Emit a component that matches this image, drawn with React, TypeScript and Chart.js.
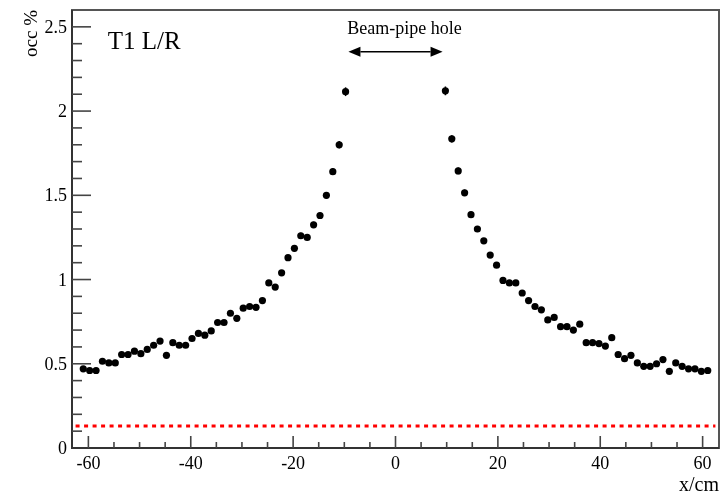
import React, { useEffect, useRef } from "react";
import { Chart, registerables } from "chart.js";
Chart.register(...registerables);

// bin centres (cm) and occupancy (%)
const xLeft = [-61, -59.75, -58.5, -57.25, -56, -54.75, -53.5, -52.25, -51, -49.75, -48.5, -47.25, -46, -44.75, -43.5, -42.25, -41, -39.75, -38.5, -37.25, -36, -34.75, -33.5, -32.25, -31, -29.75, -28.5, -27.25, -26, -24.75, -23.5, -22.25, -21, -19.75, -18.5, -17.25, -16, -14.75, -13.5, -12.25, -11, -9.75];
const occLeft = [0.47, 0.46, 0.46, 0.515, 0.505, 0.505, 0.555, 0.555, 0.575, 0.56, 0.585, 0.61, 0.635, 0.55, 0.625, 0.61, 0.61, 0.65, 0.68, 0.67, 0.695, 0.745, 0.745, 0.8, 0.77, 0.83, 0.84, 0.835, 0.875, 0.98, 0.955, 1.04, 1.13, 1.185, 1.26, 1.25, 1.325, 1.38, 1.5, 1.64, 1.8, 2.115];
const errLeft = [0.012, 0.012, 0.012, 0.012, 0.012, 0.012, 0.012, 0.012, 0.012, 0.012, 0.012, 0.012, 0.012, 0.012, 0.012, 0.012, 0.012, 0.012, 0.013, 0.013, 0.013, 0.013, 0.013, 0.014, 0.014, 0.014, 0.014, 0.014, 0.015, 0.015, 0.015, 0.016, 0.016, 0.017, 0.017, 0.017, 0.018, 0.018, 0.019, 0.02, 0.022, 0.026];

const xRight = [9.75, 11, 12.25, 13.5, 14.75, 16, 17.25, 18.5, 19.75, 21, 22.25, 23.5, 24.75, 26, 27.25, 28.5, 29.75, 31, 32.25, 33.5, 34.75, 36, 37.25, 38.5, 39.75, 41, 42.25, 43.5, 44.75, 46, 47.25, 48.5, 49.75, 51, 52.25, 53.5, 54.75, 56, 57.25, 58.5, 59.75, 61];
const occRight = [2.12, 1.835, 1.645, 1.515, 1.385, 1.3, 1.23, 1.145, 1.085, 0.995, 0.98, 0.98, 0.92, 0.875, 0.84, 0.82, 0.76, 0.775, 0.72, 0.72, 0.7, 0.735, 0.625, 0.625, 0.62, 0.605, 0.655, 0.555, 0.53, 0.55, 0.505, 0.485, 0.485, 0.5, 0.525, 0.455, 0.505, 0.485, 0.47, 0.47, 0.455, 0.46];
const errRight = [0.026, 0.022, 0.02, 0.019, 0.018, 0.018, 0.017, 0.017, 0.016, 0.016, 0.015, 0.015, 0.015, 0.014, 0.014, 0.014, 0.014, 0.014, 0.013, 0.013, 0.013, 0.013, 0.013, 0.012, 0.012, 0.012, 0.012, 0.012, 0.012, 0.012, 0.012, 0.012, 0.012, 0.012, 0.012, 0.012, 0.012, 0.012, 0.012, 0.012, 0.012, 0.012];

// threshold line
const thresholdX = [-62.5, 62.5];
const thresholdY = 0.13;

// axes
const xMin = -63.2, xMax = 63.2;
const yMin = 0, yMax = 2.6;
const xMajorTicks = [-60, -40, -20, 0, 20, 40, 60];
const xMinorStep = 5;
const yMajorTicks = [0, 0.5, 1, 1.5, 2, 2.5];
const yTickLabels = ["0", "0.5", "1", "1.5", "2", "2.5"];
const yMinorStep = 0.1;

// annotations
const holeArrow = { x1: -9.2, x2: 9.2, y: 2.352 };
const holeLabel = { text: "Beam-pipe hole", x: 1.76, y: 2.455 };
const panelLabel = { text: "T1 L/R", x: -56.2, y: 2.368 };
const xTitle = "x/cm";
const yTitle = "occ %";

const SERIF = '"Liberation Serif", "DejaVu Serif", serif';

const decorPlugin = {
  id: "rootDecor",
  beforeDatasetsDraw(chart: any) {
    const ctx = chart.ctx;
    const xs = chart.scales.x, ys = chart.scales.y;
    ctx.save();
    ctx.strokeStyle = "#000";
    ctx.lineWidth = 1.5;
    const draw = (xa: number[], ya: number[], ea: number[]) => {
      for (let i = 0; i < xa.length; i++) {
        const px = xs.getPixelForValue(xa[i]);
        ctx.beginPath();
        ctx.moveTo(px, ys.getPixelForValue(ya[i] - ea[i]));
        ctx.lineTo(px, ys.getPixelForValue(ya[i] + ea[i]));
        ctx.stroke();
      }
    };
    draw(xLeft, occLeft, errLeft);
    draw(xRight, occRight, errRight);
    ctx.restore();
  },
  afterDraw(chart: any) {
    const ctx = chart.ctx;
    const xs = chart.scales.x, ys = chart.scales.y;
    const a = chart.chartArea;
    ctx.save();
    // frame
    ctx.strokeStyle = "#555";
    ctx.lineWidth = 2;
    ctx.strokeRect(a.left, a.top, a.right - a.left, a.bottom - a.top);
    ctx.strokeStyle = "#333";
    ctx.beginPath();
    ctx.moveTo(a.left, a.top);
    ctx.lineTo(a.left, a.bottom);
    ctx.lineTo(a.right, a.bottom);
    ctx.stroke();

    // x ticks
    ctx.strokeStyle = "#444";
    ctx.lineWidth = 1.6;
    for (let v = Math.ceil(xMin / xMinorStep) * xMinorStep; v <= xMax; v += xMinorStep) {
      const px = xs.getPixelForValue(v);
      const major = xMajorTicks.includes(v);
      ctx.beginPath();
      ctx.moveTo(px, a.bottom);
      ctx.lineTo(px, a.bottom - (major ? 12 : 6));
      ctx.stroke();
    }
    // y ticks
    for (let k = 0; k * yMinorStep < yMax - 1e-6; k++) {
      const v = +(k * yMinorStep).toFixed(2);
      if (v === 0) continue;
      const py = ys.getPixelForValue(v);
      const major = yMajorTicks.some((t) => Math.abs(t - v) < 1e-6);
      ctx.beginPath();
      ctx.moveTo(a.left, py);
      ctx.lineTo(a.left + (major ? 19 : 10), py);
      ctx.stroke();
    }

    // tick labels
    ctx.fillStyle = "#000";
    ctx.font = `18px ${SERIF}`;
    ctx.textAlign = "center";
    ctx.textBaseline = "alphabetic";
    xMajorTicks.forEach((v) => {
      ctx.fillText(String(v), xs.getPixelForValue(v), a.bottom + 21);
    });
    ctx.textAlign = "right";
    yMajorTicks.forEach((v, i) => {
      ctx.fillText(yTickLabels[i], a.left - 5, ys.getPixelForValue(v) + 6);
    });

    // axis titles
    ctx.font = `20px ${SERIF}`;
    ctx.textAlign = "right";
    ctx.fillText(xTitle, a.right, 491);
    ctx.save();
    ctx.translate(37, a.top);
    ctx.rotate(-Math.PI / 2);
    ctx.font = `19px ${SERIF}`;
    ctx.textAlign = "right";
    ctx.fillText(yTitle, 0, 0);
    ctx.restore();

    // panel label
    ctx.font = `25px ${SERIF}`;
    ctx.textAlign = "left";
    ctx.fillText(panelLabel.text, xs.getPixelForValue(panelLabel.x), ys.getPixelForValue(panelLabel.y));

    // beam-pipe hole annotation
    ctx.font = `18px ${SERIF}`;
    ctx.textAlign = "center";
    ctx.fillText(holeLabel.text, xs.getPixelForValue(holeLabel.x), ys.getPixelForValue(holeLabel.y));
    const x1 = xs.getPixelForValue(holeArrow.x1);
    const x2 = xs.getPixelForValue(holeArrow.x2);
    const ay = ys.getPixelForValue(holeArrow.y);
    const hl = 12, hw = 5;
    ctx.strokeStyle = "#000";
    ctx.lineWidth = 1.5;
    ctx.beginPath();
    ctx.moveTo(x1 + hl, ay);
    ctx.lineTo(x2 - hl, ay);
    ctx.stroke();
    ctx.beginPath();
    ctx.moveTo(x1, ay);
    ctx.lineTo(x1 + hl, ay - hw);
    ctx.lineTo(x1 + hl, ay + hw);
    ctx.closePath();
    ctx.fill();
    ctx.beginPath();
    ctx.moveTo(x2, ay);
    ctx.lineTo(x2 - hl, ay - hw);
    ctx.lineTo(x2 - hl, ay + hw);
    ctx.closePath();
    ctx.fill();
    ctx.restore();
  },
};

export default function App() {
  const ref = useRef<HTMLCanvasElement | null>(null);
  useEffect(() => {
    document.body.style.margin = "0";
    const canvas = ref.current;
    if (!canvas) return;
    const pts = (xa: number[], ya: number[]) => xa.map((x, i) => ({ x, y: ya[i] }));
    const chart = new Chart(canvas, {
      type: "scatter",
      data: {
        datasets: [
          {
            type: "line",
            label: "threshold",
            data: thresholdX.map((x) => ({ x, y: thresholdY })),
            borderColor: "#ff0000",
            borderWidth: 3,
            borderDash: [4, 4.5],
            pointRadius: 0,
            fill: false,
          } as any,
          {
            label: "occupancy L",
            data: pts(xLeft, occLeft),
            backgroundColor: "#000",
            borderColor: "#000",
            pointRadius: 3.6,
            pointBorderWidth: 0,
          },
          {
            label: "occupancy R",
            data: pts(xRight, occRight),
            backgroundColor: "#000",
            borderColor: "#000",
            pointRadius: 3.6,
            pointBorderWidth: 0,
          },
        ],
      },
      options: {
        responsive: false,
        animation: false,
        layout: { padding: { left: 72, right: 5, top: 10, bottom: 45 } },
        plugins: { legend: { display: false }, tooltip: { enabled: false } },
        scales: {
          x: { type: "linear", min: xMin, max: xMax, display: false },
          y: { type: "linear", min: yMin, max: yMax, display: false },
        },
      },
      plugins: [decorPlugin],
    });
    return () => chart.destroy();
  }, []);
  return <canvas ref={ref} width={724} height={493} style={{ display: "block" }} />;
}
